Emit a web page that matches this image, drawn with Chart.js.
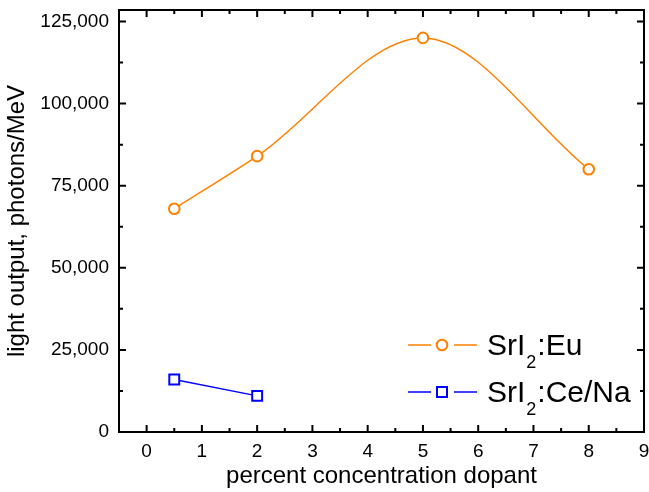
<!DOCTYPE html>
<html>
<head>
<meta charset="utf-8">
<script src="https://cdn.jsdelivr.net/npm/chart.js@4"></script>
<style>
  html, body { margin: 0; padding: 0; background: #fff; }
  #wrap { width: 649px; height: 492px; }
</style>
</head>
<body>
<div id="wrap"><canvas id="grafico" width="649" height="492"></canvas></div>
<script>
// dados
const euDopant = [0.5, 2, 5, 8];
const euLight = [68000, 84000, 120000, 80000];
const ceDopant = [0.5, 2];
const ceLight = [16000, 11000];
const seriesNames = ["SrI_2:Eu", "SrI_2:Ce/Na"];
const xTicks = [0, 1, 2, 3, 4, 5, 6, 7, 8, 9];
const yTicks = [0, 25000, 50000, 75000, 100000, 125000];
const xMinor = [-0.5, 0.5, 1.5, 2.5, 3.5, 4.5, 5.5, 6.5, 7.5, 8.5];
const yMinor = [12500, 37500, 62500, 87500, 112500];

const ORANGE = "#ff8000";
const BLUE = "#0000ff";
const FONT = "'Liberation Sans', Arial, sans-serif";

function pontos(xs, ys) {
  return xs.map((x, i) => ({ x: x, y: ys[i] }));
}

// caixa, ticks para dentro e legenda
const moldura = {
  id: "moldura",
  afterDraw(chart) {
    const ctx = chart.ctx;
    const a = chart.chartArea;
    const sx = chart.scales.x, sy = chart.scales.y;
    ctx.save();
    ctx.strokeStyle = "#000";
    ctx.lineWidth = 2;
    ctx.strokeRect(a.left, a.top, a.right - a.left, a.bottom - a.top);

    ctx.beginPath();
    const tick = (vals, len) => {
      vals.forEach(v => {
        const px = sx.getPixelForValue(v);
        ctx.moveTo(px, a.bottom); ctx.lineTo(px, a.bottom - len);
        ctx.moveTo(px, a.top); ctx.lineTo(px, a.top + len);
      });
    };
    const tickY = (vals, len) => {
      vals.forEach(v => {
        const py = sy.getPixelForValue(v);
        ctx.moveTo(a.left, py); ctx.lineTo(a.left + len, py);
        ctx.moveTo(a.right, py); ctx.lineTo(a.right - len, py);
      });
    };
    tick(xTicks, 7); tick(xMinor, 4);
    tickY(yTicks, 7); tickY(yMinor, 4);
    ctx.stroke();

    // legenda
    const rows = [345, 392];
    chart.data.datasets.forEach((ds, i) => {
      const y = rows[i];
      ctx.strokeStyle = ds.borderColor;
      ctx.lineWidth = 1.5;
      ctx.beginPath();
      ctx.moveTo(408, y); ctx.lineTo(431, y);
      ctx.moveTo(454, y); ctx.lineTo(477, y);
      ctx.stroke();
      ctx.lineWidth = 2;
      ctx.fillStyle = "#fff";
      ctx.beginPath();
      if (ds.pointStyle === "rect") {
        ctx.rect(442 - 5, y - 5, 10, 10);
      } else {
        ctx.arc(442, y, 5.3, 0, Math.PI * 2);
      }
      ctx.fill();
      ctx.stroke();

      const partes = seriesNames[i].split("_");
      const base = partes[0];
      const sub = partes[1].charAt(0);
      const resto = partes[1].slice(1);
      ctx.fillStyle = "#000";
      ctx.textBaseline = "alphabetic";
      ctx.textAlign = "left";
      let x = 487;
      ctx.font = "30px " + FONT;
      ctx.fillText(base, x, y + 10);
      x += ctx.measureText(base).width + 1;
      ctx.font = "18px " + FONT;
      ctx.fillText(sub, x, y + 23);
      x += ctx.measureText(sub).width + 1;
      ctx.font = "30px " + FONT;
      ctx.fillText(resto, x, y + 10);
    });
    ctx.restore();
  }
};

const ctx = document.getElementById("grafico").getContext("2d");
new Chart(ctx, {
  type: "line",
  data: {
    datasets: [
      {
        label: seriesNames[0],
        data: pontos(euDopant, euLight),
        borderColor: ORANGE,
        backgroundColor: "#fff",
        borderWidth: 1.5,
        pointStyle: "circle",
        pointRadius: 5.3,
        pointBorderWidth: 2,
        cubicInterpolationMode: "monotone"
      },
      {
        label: seriesNames[1],
        data: pontos(ceDopant, ceLight),
        borderColor: BLUE,
        backgroundColor: "#fff",
        borderWidth: 1.5,
        pointStyle: "rect",
        pointRadius: 7,
        pointBorderWidth: 2,
        tension: 0
      }
    ]
  },
  options: {
    responsive: false,
    animation: false,
    events: [],
    layout: { autoPadding: false, padding: { top: 10, right: 5, left: 0, bottom: 0 } },
    plugins: {
      legend: { display: false },
      tooltip: { enabled: false }
    },
    scales: {
      x: {
        type: "linear",
        min: -0.5,
        max: 9,
        afterBuildTicks: s => { s.ticks = xTicks.map(v => ({ value: v })); },
        afterFit: s => { s.height = 60; s.paddingLeft = 0; s.paddingRight = 0; },
        grid: { display: false, drawTicks: false },
        border: { display: false },
        ticks: { padding: 8, color: "#000", font: { family: FONT, size: 19 }, maxRotation: 0 },
        title: {
          display: true,
          text: "percent concentration dopant",
          color: "#000",
          font: { family: FONT, size: 24 },
          padding: { top: 0, bottom: 1 }
        }
      },
      y: {
        type: "linear",
        min: 0,
        max: 128500,
        afterBuildTicks: s => { s.ticks = yTicks.map(v => ({ value: v })); },
        afterFit: s => { s.width = 119; s.paddingTop = 0; s.paddingBottom = 0; },
        grid: { display: false, drawTicks: false },
        border: { display: false },
        ticks: {
          padding: 10,
          color: "#000",
          font: { family: FONT, size: 19 },
          callback: v => v.toLocaleString("en-US")
        },
        title: {
          display: true,
          text: "light output, photons/MeV",
          color: "#000",
          font: { family: FONT, size: 24 },
          padding: { top: 3, bottom: 0 }
        }
      }
    }
  },
  plugins: [moldura]
});
</script>
</body>
</html>
